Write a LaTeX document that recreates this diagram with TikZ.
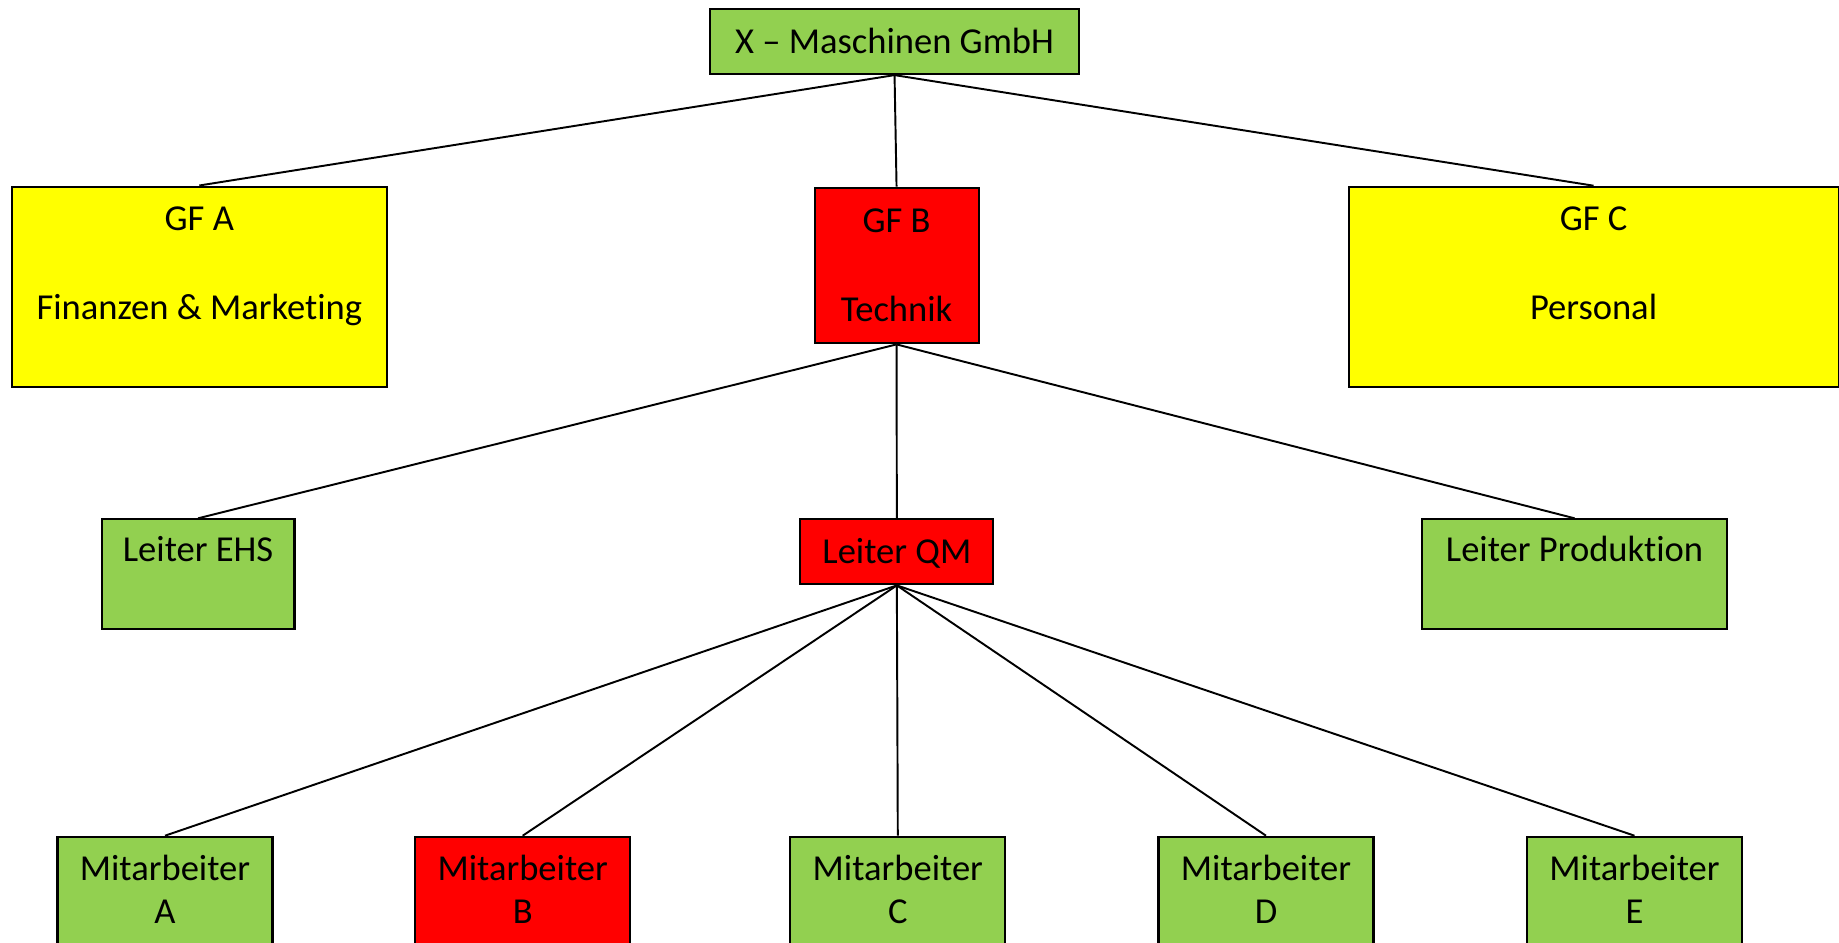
\documentclass[tikz,border=0pt]{standalone}
\usepackage{fontspec}
\setmainfont{Carlito}[Ligatures={TeX,NoCommon}]
\usepackage{tikz}

\definecolor{orggreen}{HTML}{92D050}
\definecolor{orgyellow}{HTML}{FFFF00}
\definecolor{orgred}{HTML}{FF0000}

\tikzset{
  box/.style={draw, line width=0.6pt, inner sep=0pt, anchor=north west},
  txt/.style={anchor=base, align=center, inner sep=0pt, font=\fontsize{10.4pt}{12.66pt}\selectfont},
  link/.style={line width=0.55pt}
}

\begin{document}
\begin{tikzpicture}[x=0.1mm, y=-0.1mm]
\clip (0,0) rectangle (1839,943);

% Geschaeftsleitung
\node[box, fill=orggreen, minimum width=36.9mm, minimum height=6.5mm] (firm) at (709,8) {};
\node[txt] (firm-t) at ([yshift=-4.5mm]firm.north) {X – Maschinen GmbH};

\node[box, fill=orgyellow, minimum width=37.55mm, minimum height=20.05mm] (gfa) at (10.5,185.5) {};
\node[box, fill=orgred, minimum width=16.4mm, minimum height=15.56mm] (gfb) at (813.5,186.7) {};
\node[box, fill=orgyellow, minimum width=49mm, minimum height=20.03mm] (gfc) at (1347.5,185.7) {};
% base = letzte Zeile
\node[txt] (gfa-t) at ([yshift=-13.4mm]gfa.north) {GF A\\[4.45mm]Finanzen \& Marketing};
\node[txt] (gfb-t) at ([yshift=-13.5mm]gfb.north) {GF B\\[4.45mm]Technik};
\node[txt] (gfc-t) at ([yshift=-13.4mm]gfc.north) {GF C\\[4.45mm]Personal};
\foreach \g in {gfa,gfb,gfc}
	\draw[link] (firm.south) -- (\g.north);

% Leiter
\node[box, fill=orggreen, minimum width=19.3mm, minimum height=11mm] (ehs) at (100.5,518.3) {};
\node[box, fill=orgred, minimum width=19.3mm, minimum height=6.5mm] (qm) at (799.3,518.3) {};
\node[box, fill=orggreen, minimum width=30.5mm, minimum height=11mm] (prod) at (1421,518.3) {};
\node[txt] (ehs-t) at ([yshift=-4.35mm]ehs.north) {Leiter EHS};
\node[txt] (qm-t) at ([yshift=-4.5mm]qm.north) {Leiter QM};
\node[txt] (prod-t) at ([yshift=-4.35mm]prod.north) {Leiter Produktion};
\foreach \l in {ehs,qm,prod}
	\draw[link] (gfb.south) -- (\l.north);

% Mitarbeiter
\foreach \n/\c/\x in {A/orggreen/165,B/orgred/522.7,C/orggreen/897.8,D/orggreen/1266,E/orggreen/1634.5} {
	\node[box, fill=\c, anchor=north, minimum width=21.5mm, minimum height=15mm] (ma\n) at (\x,835.7) {};
	\node[txt, font=\fontsize{10.4pt}{12.3pt}\selectfont] (ma\n-t) at ([yshift=-8.76mm]ma\n.north) {Mitarbeiter\\\n};
	\draw[link] (qm.south) -- (ma\n.north);
}
\end{tikzpicture}
\end{document}
